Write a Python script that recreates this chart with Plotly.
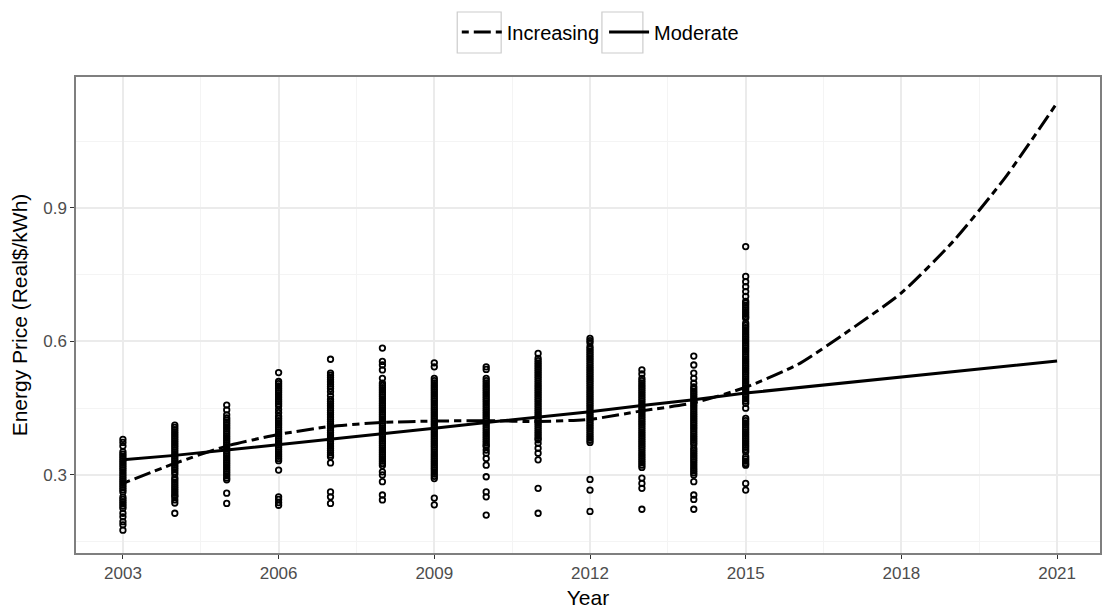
import plotly.graph_objects as go

years_line = list(range(2003, 2022))
increasing = [0.281, 0.326, 0.365, 0.391, 0.409, 0.418, 0.421, 0.422, 0.420, 0.425,
              0.444, 0.462, 0.497, 0.548, 0.625, 0.709, 0.825, 0.968, 1.136]
moderate = [0.334, 0.344, 0.356, 0.368, 0.380, 0.392, 0.405, 0.418, 0.430, 0.442,
            0.456, 0.469, 0.484, 0.496, 0.508, 0.520, 0.532, 0.544, 0.556]

p2003 = [0.380, 0.373, 0.365, 0.352, 0.347, 0.342, 0.337, 0.332, 0.327, 0.322, 0.317, 0.312,
         0.307, 0.302, 0.297, 0.292, 0.287, 0.282, 0.277, 0.272, 0.267, 0.262, 0.250, 0.245,
         0.240, 0.235, 0.230, 0.225, 0.214, 0.206, 0.195, 0.188, 0.176]
p2004 = [0.412, 0.407, 0.402, 0.397, 0.392, 0.387, 0.382, 0.377, 0.372, 0.367, 0.362, 0.357,
         0.352, 0.347, 0.342, 0.337, 0.332, 0.327, 0.322, 0.317, 0.312, 0.307, 0.302, 0.294,
         0.289, 0.284, 0.279, 0.274, 0.269, 0.264, 0.259, 0.254, 0.251, 0.244, 0.237, 0.214]
p2005 = [0.457, 0.446, 0.435, 0.428, 0.423, 0.418, 0.413, 0.408, 0.403, 0.398, 0.393, 0.388,
         0.383, 0.378, 0.373, 0.368, 0.363, 0.358, 0.353, 0.348, 0.343, 0.338, 0.333, 0.328,
         0.323, 0.318, 0.313, 0.308, 0.303, 0.298, 0.293, 0.289, 0.259, 0.236]
p2006 = [0.530, 0.510, 0.505, 0.500, 0.495, 0.490, 0.485, 0.480, 0.475, 0.470, 0.465, 0.460,
         0.455, 0.447, 0.440, 0.432, 0.427, 0.422, 0.417, 0.412, 0.407, 0.402, 0.397, 0.392,
         0.387, 0.382, 0.377, 0.372, 0.367, 0.362, 0.357, 0.352, 0.347, 0.342, 0.337, 0.332,
         0.311, 0.251, 0.245, 0.238, 0.232]
p2007 = [0.560, 0.529, 0.524, 0.519, 0.514, 0.509, 0.504, 0.499, 0.494, 0.487, 0.478, 0.470,
         0.465, 0.460, 0.455, 0.450, 0.445, 0.440, 0.435, 0.430, 0.425, 0.420, 0.415, 0.410,
         0.405, 0.400, 0.395, 0.390, 0.385, 0.380, 0.375, 0.370, 0.365, 0.360, 0.355, 0.350,
         0.345, 0.341, 0.327, 0.262, 0.251, 0.236]
p2008 = [0.585, 0.555, 0.547, 0.536, 0.517, 0.506, 0.501, 0.496, 0.491, 0.486, 0.481, 0.476,
         0.471, 0.466, 0.461, 0.456, 0.451, 0.446, 0.441, 0.436, 0.431, 0.426, 0.421, 0.416,
         0.411, 0.406, 0.401, 0.396, 0.391, 0.386, 0.381, 0.376, 0.371, 0.366, 0.361, 0.356,
         0.351, 0.346, 0.341, 0.336, 0.331, 0.326, 0.321, 0.307, 0.300, 0.285, 0.255, 0.244]
p2009 = [0.552, 0.543, 0.517, 0.512, 0.507, 0.502, 0.497, 0.492, 0.487, 0.482, 0.477, 0.472,
         0.467, 0.462, 0.457, 0.452, 0.447, 0.442, 0.437, 0.432, 0.427, 0.422, 0.417, 0.412,
         0.407, 0.402, 0.397, 0.392, 0.387, 0.382, 0.377, 0.372, 0.367, 0.362, 0.357, 0.352,
         0.347, 0.342, 0.337, 0.332, 0.327, 0.322, 0.317, 0.312, 0.307, 0.302, 0.297, 0.292,
         0.248, 0.233]
p2010 = [0.543, 0.537, 0.517, 0.512, 0.507, 0.502, 0.497, 0.492, 0.487, 0.482, 0.477, 0.472,
         0.467, 0.462, 0.457, 0.452, 0.447, 0.442, 0.437, 0.432, 0.427, 0.422, 0.417, 0.412,
         0.407, 0.402, 0.397, 0.392, 0.387, 0.382, 0.377, 0.372, 0.367, 0.364, 0.356, 0.349,
         0.337, 0.322, 0.296, 0.262, 0.251, 0.210]
p2011 = [0.573, 0.562, 0.557, 0.552, 0.547, 0.542, 0.537, 0.532, 0.527, 0.522, 0.517, 0.512,
         0.507, 0.502, 0.497, 0.492, 0.487, 0.482, 0.477, 0.472, 0.467, 0.462, 0.457, 0.452,
         0.447, 0.442, 0.437, 0.432, 0.427, 0.422, 0.417, 0.412, 0.407, 0.402, 0.397, 0.392,
         0.387, 0.382, 0.379, 0.371, 0.360, 0.349, 0.334, 0.270, 0.214]
p2012 = [0.607, 0.602, 0.597, 0.588, 0.583, 0.578, 0.573, 0.568, 0.563, 0.558, 0.553, 0.548,
         0.543, 0.538, 0.533, 0.528, 0.523, 0.518, 0.513, 0.508, 0.503, 0.498, 0.493, 0.488,
         0.483, 0.478, 0.473, 0.468, 0.463, 0.458, 0.453, 0.448, 0.443, 0.438, 0.433, 0.428,
         0.423, 0.418, 0.413, 0.408, 0.403, 0.398, 0.393, 0.388, 0.383, 0.378, 0.373, 0.290,
         0.266, 0.218]
p2013 = [0.536, 0.527, 0.517, 0.512, 0.507, 0.502, 0.497, 0.492, 0.487, 0.482, 0.477, 0.472,
         0.467, 0.462, 0.457, 0.452, 0.447, 0.442, 0.437, 0.432, 0.427, 0.422, 0.417, 0.412,
         0.407, 0.402, 0.397, 0.392, 0.387, 0.382, 0.377, 0.372, 0.367, 0.362, 0.357, 0.352,
         0.347, 0.342, 0.337, 0.332, 0.327, 0.322, 0.317, 0.293, 0.281, 0.270, 0.223]
p2014 = [0.567, 0.547, 0.529, 0.517, 0.506, 0.498, 0.493, 0.488, 0.483, 0.478, 0.473, 0.468,
         0.463, 0.458, 0.453, 0.448, 0.443, 0.438, 0.433, 0.428, 0.423, 0.418, 0.413, 0.408,
         0.403, 0.398, 0.393, 0.388, 0.383, 0.378, 0.373, 0.368, 0.360, 0.355, 0.350, 0.345,
         0.340, 0.335, 0.330, 0.325, 0.320, 0.315, 0.310, 0.305, 0.300, 0.285, 0.255, 0.245,
         0.223]
p2015 = [0.813, 0.746, 0.734, 0.723, 0.712, 0.701, 0.690, 0.686, 0.681, 0.676, 0.671, 0.666,
         0.661, 0.656, 0.652, 0.641, 0.636, 0.631, 0.626, 0.621, 0.616, 0.611, 0.606, 0.601,
         0.596, 0.591, 0.586, 0.581, 0.576, 0.571, 0.566, 0.561, 0.556, 0.551, 0.546, 0.541,
         0.536, 0.531, 0.526, 0.521, 0.516, 0.511, 0.506, 0.501, 0.496, 0.491, 0.486, 0.481,
         0.476, 0.471, 0.466, 0.461, 0.450, 0.427, 0.422, 0.417, 0.412, 0.407, 0.402, 0.397,
         0.392, 0.387, 0.382, 0.377, 0.372, 0.367, 0.362, 0.357, 0.352, 0.341, 0.336, 0.331,
         0.326, 0.322, 0.281, 0.266]

obs_years = [2003, 2004, 2005, 2006, 2007, 2008, 2009, 2010, 2011, 2012, 2013, 2014, 2015]
obs_values = [p2003, p2004, p2005, p2006, p2007, p2008, p2009, p2010, p2011, p2012,
              p2013, p2014, p2015]

x_ticks = [2003, 2006, 2009, 2012, 2015, 2018, 2021]
y_ticks = [0.3, 0.6, 0.9]
y_tick_labels = ["0.3", "0.6", "0.9"]

FONT = "Liberation Sans, Arial, sans-serif"

fig = go.Figure()

xs, ys = [], []
for yr, vals in zip(obs_years, obs_values):
    xs.extend([yr] * len(vals))
    ys.extend(vals)

fig.add_trace(go.Scatter(
    x=xs, y=ys, mode="markers", showlegend=False, hoverinfo="skip",
    marker=dict(symbol="circle-open", size=5.5, color="black", line=dict(width=1.8)),
))

fig.add_trace(go.Scatter(
    x=years_line, y=increasing, mode="lines", name="Increasing",
    line=dict(color="black", width=3, dash="7px,5px,17px,5px", shape="spline", smoothing=0.6),
))
fig.add_trace(go.Scatter(
    x=years_line, y=moderate, mode="lines", name="Moderate",
    line=dict(color="black", width=3),
))

axis_common = dict(
    showline=True, mirror=True, linecolor="#7f7f7f", linewidth=1.5,
    ticks="outside", ticklen=4, tickwidth=1, tickcolor="#333333",
    tickfont=dict(family=FONT, size=17, color="#4d4d4d"),
    gridcolor="#ebebeb", gridwidth=1.6, zeroline=False,
)

# legend key frames (ggplot-style key boxes)
key_boxes = [(0.3723, 0.4152), (0.5136, 0.5536)]
shapes = [dict(type="rect", xref="paper", yref="paper", x0=a, x1=b, y0=1.0504, y1=1.1366,
               line=dict(color="#cccccc", width=1.2), fillcolor="rgba(0,0,0,0)", layer="below")
          for a, b in key_boxes]

fig.update_layout(
    width=1102, height=610,
    margin=dict(l=76, r=0, t=77, b=57),
    paper_bgcolor="white", plot_bgcolor="white",
    shapes=shapes,
    xaxis=dict(
        range=[2002.096, 2021.827], tickvals=x_ticks,
        title=dict(text="Year", font=dict(family=FONT, size=21, color="black"), standoff=8),
        minor=dict(tick0=2001.5, dtick=1.5, showgrid=True, gridcolor="#f4f4f4", gridwidth=1, ticklen=0),
        **axis_common,
    ),
    yaxis=dict(
        range=[0.1247, 1.194], tickvals=y_ticks, ticktext=y_tick_labels,
        title=dict(text="Energy Price (Real$/kWh)", font=dict(family=FONT, size=21, color="black"), standoff=10),
        minor=dict(tick0=0.0, dtick=0.15, showgrid=True, gridcolor="#f4f4f4", gridwidth=1, ticklen=0),
        **axis_common,
    ),
    legend=dict(
        orientation="h", x=0.512, xanchor="center", y=1.0945, yanchor="middle",
        font=dict(family=FONT, size=20, color="black"),
        itemwidth=40, bgcolor="rgba(0,0,0,0)",
    ),
)

fig.write_html("out.html")
